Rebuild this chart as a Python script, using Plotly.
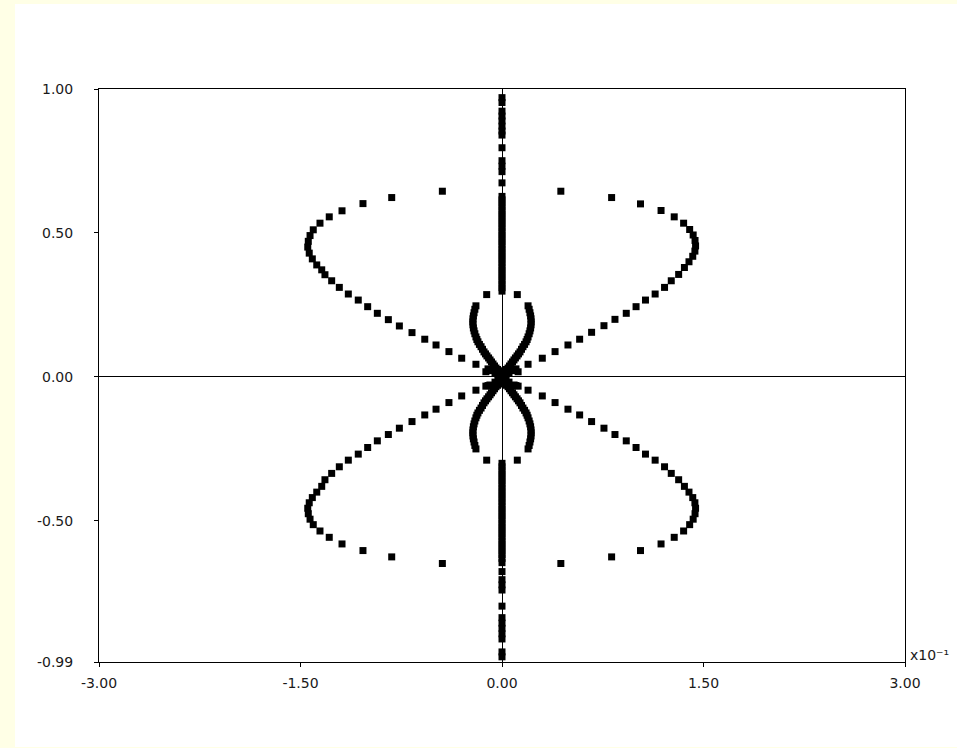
import plotly.graph_objects as go

# x values are in units of 10^-1 (axis carries the "x10^-1" multiplier)

# outer loops, one quadrant each, ordered from the loop tip inward to the origin
outer_ur_x = [0.438, 0.816, 1.031, 1.184, 1.282, 1.352, 1.397, 1.423, 1.437, 1.441, 1.436, 1.420, 1.392, 1.358, 1.315, 1.260,
              1.210, 1.140, 1.068, 0.998, 0.925, 0.841, 0.759, 0.667, 0.578, 0.491, 0.395, 0.300, 0.194, 0.104, 0.052]
outer_ur_y = [0.645, 0.623, 0.601, 0.578, 0.556, 0.534, 0.512, 0.493, 0.474, 0.455, 0.437, 0.419, 0.400, 0.380, 0.356, 0.334,
              0.311, 0.288, 0.267, 0.244, 0.221, 0.200, 0.178, 0.155, 0.131, 0.111, 0.088, 0.065, 0.044, 0.028, 0.014]
outer_ul_x = [-0.444, -0.821, -1.035, -1.191, -1.286, -1.355, -1.405, -1.429, -1.442, -1.446, -1.435, -1.412, -1.379, -1.342, -1.318, -1.268,
              -1.211, -1.144, -1.070, -1.000, -0.928, -0.846, -0.764, -0.670, -0.575, -0.491, -0.395, -0.300, -0.194, -0.104, -0.052]
outer_ul_y = [0.645, 0.623, 0.602, 0.577, 0.556, 0.534, 0.511, 0.491, 0.471, 0.451, 0.430, 0.410, 0.389, 0.372, 0.355, 0.334,
              0.311, 0.288, 0.267, 0.244, 0.221, 0.199, 0.177, 0.154, 0.131, 0.111, 0.088, 0.065, 0.044, 0.028, 0.014]
outer_lr_x = [0.438, 0.816, 1.031, 1.184, 1.282, 1.352, 1.397, 1.423, 1.437, 1.441, 1.436, 1.420, 1.392, 1.358, 1.315, 1.260,
              1.210, 1.140, 1.068, 0.998, 0.925, 0.841, 0.759, 0.667, 0.578, 0.491, 0.395, 0.300, 0.194, 0.104, 0.052]
outer_lr_y = [-0.648, -0.625, -0.603, -0.580, -0.557, -0.535, -0.513, -0.494, -0.475, -0.456, -0.437, -0.419, -0.400, -0.380, -0.357, -0.335,
              -0.312, -0.289, -0.268, -0.245, -0.222, -0.200, -0.178, -0.155, -0.132, -0.112, -0.089, -0.066, -0.046, -0.030, -0.018]
outer_ll_x = [-0.444, -0.821, -1.035, -1.191, -1.286, -1.355, -1.405, -1.429, -1.442, -1.446, -1.435, -1.412, -1.379, -1.342, -1.318, -1.268,
              -1.211, -1.144, -1.070, -1.000, -0.928, -0.846, -0.764, -0.670, -0.575, -0.491, -0.395, -0.300, -0.194, -0.104, -0.052]
outer_ll_y = [-0.648, -0.625, -0.603, -0.580, -0.557, -0.535, -0.513, -0.494, -0.475, -0.456, -0.437, -0.419, -0.400, -0.380, -0.357, -0.335,
              -0.312, -0.289, -0.268, -0.245, -0.222, -0.200, -0.178, -0.155, -0.132, -0.112, -0.089, -0.066, -0.046, -0.030, -0.018]

# small inner lobes near the origin
inner_r_x = [0.114, 0.194, 0.202, 0.208, 0.213, 0.216, 0.217, 0.216, 0.213, 0.208, 0.202, 0.194, 0.187, 0.179, 0.168,
             0.156, 0.145, 0.134, 0.123, 0.112, 0.100, 0.089, 0.078, 0.067, 0.056, 0.045, 0.033, 0.022, 0.007]
inner_u_y = [0.286, 0.247, 0.235, 0.223, 0.212, 0.202, 0.191, 0.181, 0.170, 0.160, 0.150, 0.139, 0.130, 0.122, 0.113,
             0.105, 0.096, 0.087, 0.080, 0.073, 0.066, 0.059, 0.052, 0.045, 0.038, 0.031, 0.026, 0.021, 0.010]
inner_l_x = [-0.114, -0.194, -0.202, -0.208, -0.213, -0.216, -0.217, -0.216, -0.213, -0.208, -0.202, -0.194, -0.187, -0.179, -0.168,
             -0.156, -0.145, -0.134, -0.123, -0.112, -0.100, -0.089, -0.078, -0.067, -0.056, -0.045, -0.033, -0.022, -0.007]
inner_d_y = [-0.289, -0.250, -0.238, -0.226, -0.215, -0.205, -0.194, -0.184, -0.173, -0.163, -0.153, -0.142, -0.133, -0.125, -0.116,
             -0.108, -0.099, -0.090, -0.083, -0.076, -0.069, -0.062, -0.055, -0.048, -0.041, -0.034, -0.029, -0.024, -0.013]

# cluster of points right around the origin
center_x = [-0.090, 0.090, -0.120, 0.120, -0.030, 0.030, -0.090, 0.090, -0.120, 0.120, -0.030, 0.030]
center_y = [0.022, 0.022, 0.018, 0.018, 0.008, 0.008, -0.028, -0.028, -0.032, -0.032, -0.014, -0.014]

# points lying on the vertical axis
stem_y = [0.970, 0.953, 0.923, 0.906, 0.889, 0.871, 0.854, 0.840, 0.796, 0.751, 0.732, 0.713, 0.674, 0.627,
          0.615, 0.603, 0.591, 0.578, 0.566, 0.554, 0.542, 0.530, 0.518, 0.505, 0.493, 0.481, 0.469, 0.457,
          0.444, 0.432, 0.420, 0.408, 0.396, 0.383, 0.371, 0.359, 0.347, 0.335, 0.322, 0.310, 0.298,
          0.012, 0.0, -0.012,
          -0.300, -0.312, -0.325, -0.337, -0.349, -0.361, -0.373, -0.386, -0.398, -0.410, -0.422, -0.434,
          -0.447, -0.459, -0.471, -0.483, -0.495, -0.508, -0.520, -0.532, -0.544, -0.556, -0.569, -0.581,
          -0.593, -0.605, -0.617, -0.630, -0.645, -0.676, -0.704, -0.722, -0.740, -0.796, -0.836, -0.855,
          -0.873, -0.892, -0.910, -0.955, -0.972]
stem_x = [0.0] * len(stem_y)

x_tick_vals = [-3.0, -1.5, 0.0, 1.5, 3.0]
x_tick_text = ["-3.00", "-1.50", "0.00", "1.50", "3.00"]
y_tick_vals = [-0.99, -0.5, 0.0, 0.5, 1.0]
y_tick_text = ["-0.99", "-0.50", "0.00", "0.50", "1.00"]

xs = (outer_ur_x + outer_ul_x + outer_lr_x + outer_ll_x
      + inner_r_x + inner_l_x + inner_r_x + inner_l_x + center_x + stem_x)
ys = (outer_ur_y + outer_ul_y + outer_lr_y + outer_ll_y
      + inner_u_y + inner_u_y + inner_d_y + inner_d_y + center_y + stem_y)

fig = go.Figure()
fig.add_trace(go.Scatter(
    x=xs, y=ys, mode="markers",
    marker=dict(symbol="square", size=7, color="black", line=dict(width=0)),
    showlegend=False, hoverinfo="x+y",
))

axis_font = dict(family="DejaVu Sans, Verdana, sans-serif", size=14, color="#1a1a1a")

fig.update_layout(
    width=957, height=748,
    margin=dict(l=99, r=52, t=89, b=86),
    paper_bgcolor="#FFFFE6",
    plot_bgcolor="white",
    font=axis_font,
    xaxis=dict(
        range=[-3.0, 3.0], tickvals=x_tick_vals, ticktext=x_tick_text,
        showgrid=False, zeroline=True, zerolinecolor="black", zerolinewidth=1,
        showline=True, linecolor="black", linewidth=1, mirror=True,
        ticks="outside", ticklen=4, tickcolor="black", tickfont=axis_font,
        ticklabelstandoff=4,
    ),
    yaxis=dict(
        range=[-0.99, 1.0], tickvals=y_tick_vals, ticktext=y_tick_text,
        showgrid=False, zeroline=True, zerolinecolor="black", zerolinewidth=1,
        showline=True, linecolor="black", linewidth=1, mirror=True,
        ticks="outside", ticklen=4, tickcolor="black", tickfont=axis_font,
        ticklabelstandoff=18,
    ),
    shapes=[dict(
        type="rect", xref="paper", yref="paper",
        x0=-0.1042, x1=1.07, y0=-0.1483, y1=1.1483,
        fillcolor="white", line=dict(width=0), layer="below",
    )],
    annotations=[dict(
        text="x10⁻¹", xref="paper", yref="paper", x=1.0, y=0.0,
        xanchor="left", yanchor="bottom", xshift=3, yshift=-3,
        showarrow=False, font=axis_font,
    )],
)

fig.write_html("out.html")
